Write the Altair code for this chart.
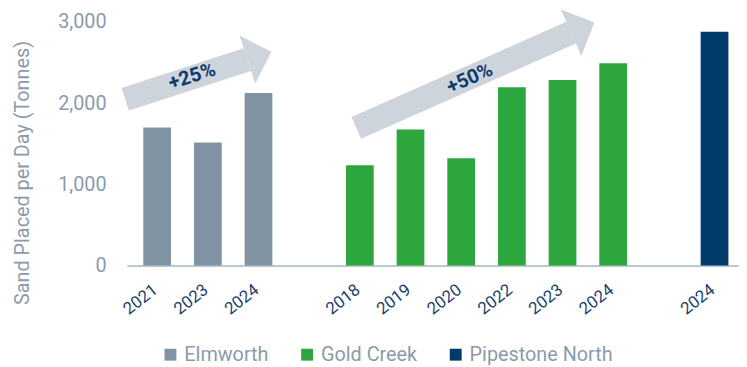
import altair as alt
import pandas as pd

# ---- data ----
mines = ["Elmworth", "Elmworth", "Elmworth",
         "Gold Creek", "Gold Creek", "Gold Creek", "Gold Creek", "Gold Creek", "Gold Creek",
         "Pipestone North"]
years = ["2021", "2023", "2024", "2018", "2019", "2020", "2022", "2023", "2024", "2024"]
sand = [1700, 1515, 2125, 1235, 1675, 1320, 2195, 2285, 2490, 2880]

mine_names = ["Elmworth", "Gold Creek", "Pipestone North"]
mine_colors = ["#8193a3", "#2ea63e", "#003b6b"]

y_ticks = [0, 1000, 2000, 3000]

# growth arrows (annotation): label, tail (slot, tonnes), head base (slot, tonnes), text (slot, tonnes)
arrow_labels = ["+25%", "+50%"]
arrow_tail_slot = [-0.63, 3.93]
arrow_tail_val = [2048, 1694]
arrow_head_slot = [1.78, 8.17]
arrow_head_val = [2535, 2867]
arrow_text_slot = [0.69, 6.17]
arrow_text_val = [2327, 2302]
arrow_rot = [342.1, 336.2]

# slot index: one empty slot between mines
slots = []
s = 0
for i, m in enumerate(mines):
    if i > 0 and m != mines[i - 1]:
        s += 1
    slots.append(s)
    s += 1

bars = pd.DataFrame({"mine": mines, "year": years, "sand": sand, "slot": slots})

label_map = {sl: yr for sl, yr in zip(slots, years)}
label_expr = "{" + ",".join(f"'{k}':'{v}'" for k, v in label_map.items()) + "}[datum.value]"

arrow_lines = pd.DataFrame({
    "arrow": arrow_labels * 2,
    "slot": arrow_tail_slot + arrow_head_slot,
    "val": arrow_tail_val + arrow_head_val,
})
arrow_heads = pd.DataFrame({"arrow": arrow_labels, "slot": arrow_head_slot,
                            "val": arrow_head_val, "rot": arrow_rot})
arrow_texts = pd.DataFrame({"arrow": arrow_labels, "slot": arrow_text_slot,
                            "val": arrow_text_val, "rot": arrow_rot})

GRAY_TXT = "#8a9bab"
NAVY_TXT = "#0f3c6b"
ARROW = "#cdd4db"
FONT = "Roboto"

xscale = alt.Scale(domain=[-0.5, 11.385], nice=False, zero=False)
yscale = alt.Scale(domain=[0, 3000], nice=False)

x_axis = alt.Axis(values=slots, labelExpr=label_expr, labelAngle=322, labelAlign="right",
                  labelBaseline="top", labelPadding=16, labelOffset=-7, ticks=False, grid=False,
                  domainColor="#a5b4c2", domainWidth=1.5, labelColor="#1c3f6e",
                  labelFontSize=17, labelFont=FONT, title=None)
y_axis = alt.Axis(values=y_ticks, format=",.0f", ticks=False, domain=False, grid=False,
                  labelColor=GRAY_TXT, labelFontSize=20, labelFont=FONT, labelPadding=21,
                  title="Sand Placed per Day (Tonnes)", titleFont=FONT, titleFontSize=20,
                  titleFontWeight="normal", titleColor=GRAY_TXT, titleX=-105, titleY=152,
                  titleAngle=270, titleAlign="center", titleBaseline="middle")

line_layer = alt.Chart(arrow_lines).mark_line(strokeWidth=24, strokeCap="butt", color=ARROW).encode(
    x=alt.X("slot:Q", scale=xscale, axis=x_axis),
    y=alt.Y("val:Q", scale=yscale, axis=y_axis),
    detail="arrow:N",
)

head_layer = alt.Chart(arrow_heads).mark_point(
    shape="M0,-1L1,0L0,1Z", filled=True, size=2621, opacity=1, color=ARROW, strokeWidth=0
).encode(
    x=alt.X("slot:Q", scale=xscale),
    y=alt.Y("val:Q", scale=yscale),
    angle=alt.Angle("rot:Q", scale=None),
)

text_layer = alt.Chart(arrow_texts).mark_text(
    font=FONT, fontSize=20, fontWeight="bold", color=NAVY_TXT, align="center", baseline="middle"
).encode(
    x=alt.X("slot:Q", scale=xscale),
    y=alt.Y("val:Q", scale=yscale),
    text="arrow:N",
    angle=alt.Angle("rot:Q", scale=None),
)

bar_layer = alt.Chart(bars).mark_bar(size=28).encode(
    x=alt.X("slot:Q", scale=xscale),
    y=alt.Y("sand:Q", scale=yscale),
    color=alt.Color("mine:N", scale=alt.Scale(domain=mine_names, range=mine_colors),
                    legend=alt.Legend(orient="none", legendX=34, legendY=326, direction="horizontal",
                                      title=None, symbolType="square", symbolSize=144,
                                      symbolStrokeWidth=0, labelFontSize=20, labelFont=FONT,
                                      labelColor=GRAY_TXT, columnPadding=28, labelOffset=4,
                                      padding=0)),
)

chart = alt.layer(line_layer, head_layer, text_layer, bar_layer).properties(
    width=618, height=246,
    autosize=alt.AutoSizeParams(type="none"),
    padding={"left": 120, "top": 12.3, "right": 0, "bottom": 100},
    background="white",
).configure_view(stroke=None)

chart.save("out.html", embed_options={"renderer": "svg", "actions": False})
